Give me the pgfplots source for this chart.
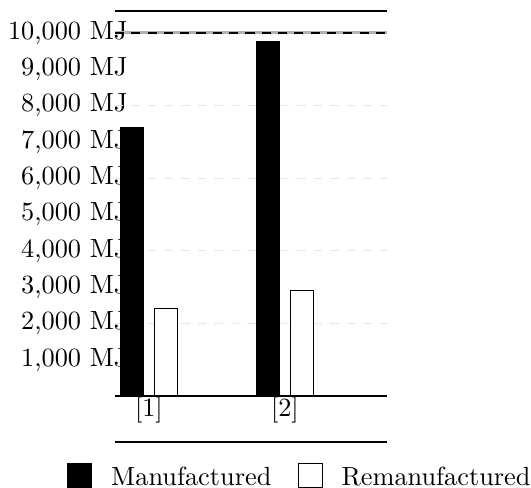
\documentclass[border=0pt]{standalone}
\usepackage{pgfplots}
\pgfplotsset{compat=1.18}
\pgfplotsset{mysq/.style={legend image code/.code={\draw[##1] (0pt,-3.5pt) rectangle (9.1pt,5.6pt);}}}
\begin{document}
\begin{tikzpicture}
\begin{axis}[
  name=ax,
  scale only axis,
  width=103.4pt, height=163.9pt,
  xmin=0.75, xmax=2.75,
  ymin=-1266, ymax=10600,
  axis line style={draw=none},
  major tick length=0pt,
  xtick={1,2}, xticklabels={[1],[2]},
  xticklabel style={yshift=20.8pt},
  ytick={1000,2000,...,10000},
  scaled y ticks=false,
  /pgf/number format/assume math mode=true,
  /pgf/number format/1000 sep={,},
  yticklabel={\pgfmathprintnumber{\tick}\ MJ},
  yticklabel style={xshift=8.3pt},
  extra y ticks={2000,4000,6000,8000},
  extra y tick labels={},
  extra y tick style={ymajorgrids=true, major grid style={gray!20, dash pattern=on 3.2pt off 3.1pt, line width=0.4pt}},
  legend columns=2,
  legend style={draw=none, fill=none, at={(0,0)}, anchor=north west,
    xshift=-18.3pt, yshift=-7.8pt, inner xsep=0pt, inner ysep=0pt,
    nodes={inner sep=0pt},
    /tikz/every odd column/.append style={column sep=7.2pt},
    /tikz/every even column/.append style={column sep=10pt}},
  clip=false,
]
\addplot[ybar, bar width=8.7pt, bar shift=-6.45pt, draw=black, fill=black, mysq]
  coordinates {(1,7385) (2,9750)};
\addlegendentry{Manufactured}
\addplot[ybar, bar width=8.7pt, bar shift=6.45pt, draw=black, fill=white, line width=0.4pt, mysq]
  coordinates {(1,2400) (2,2900)};
\addlegendentry{Remanufactured}
\addplot[gray!60, line width=1.1pt, forget plot] coordinates {(0.75,10000) (2.75,10000)};
\addplot[black, line width=0.7pt, dash pattern=on 3.5pt off 2.7pt, forget plot] coordinates {(0.75,10000) (2.75,10000)};
\addplot[black, line width=0.8pt, forget plot] coordinates {(0.75,0) (2.75,0)};
\draw[line width=0.9pt] (rel axis cs:0,1) -- (rel axis cs:1,1);
\draw[line width=0.9pt] (rel axis cs:0,0) -- (rel axis cs:1,0);
\end{axis}
\pgfresetboundingbox
\path[use as bounding box] ([xshift=-43.7pt,yshift=-17.1pt]ax.south west) rectangle ([xshift=54.8pt,yshift=4.2pt]ax.north east);
\end{tikzpicture}
\end{document}
